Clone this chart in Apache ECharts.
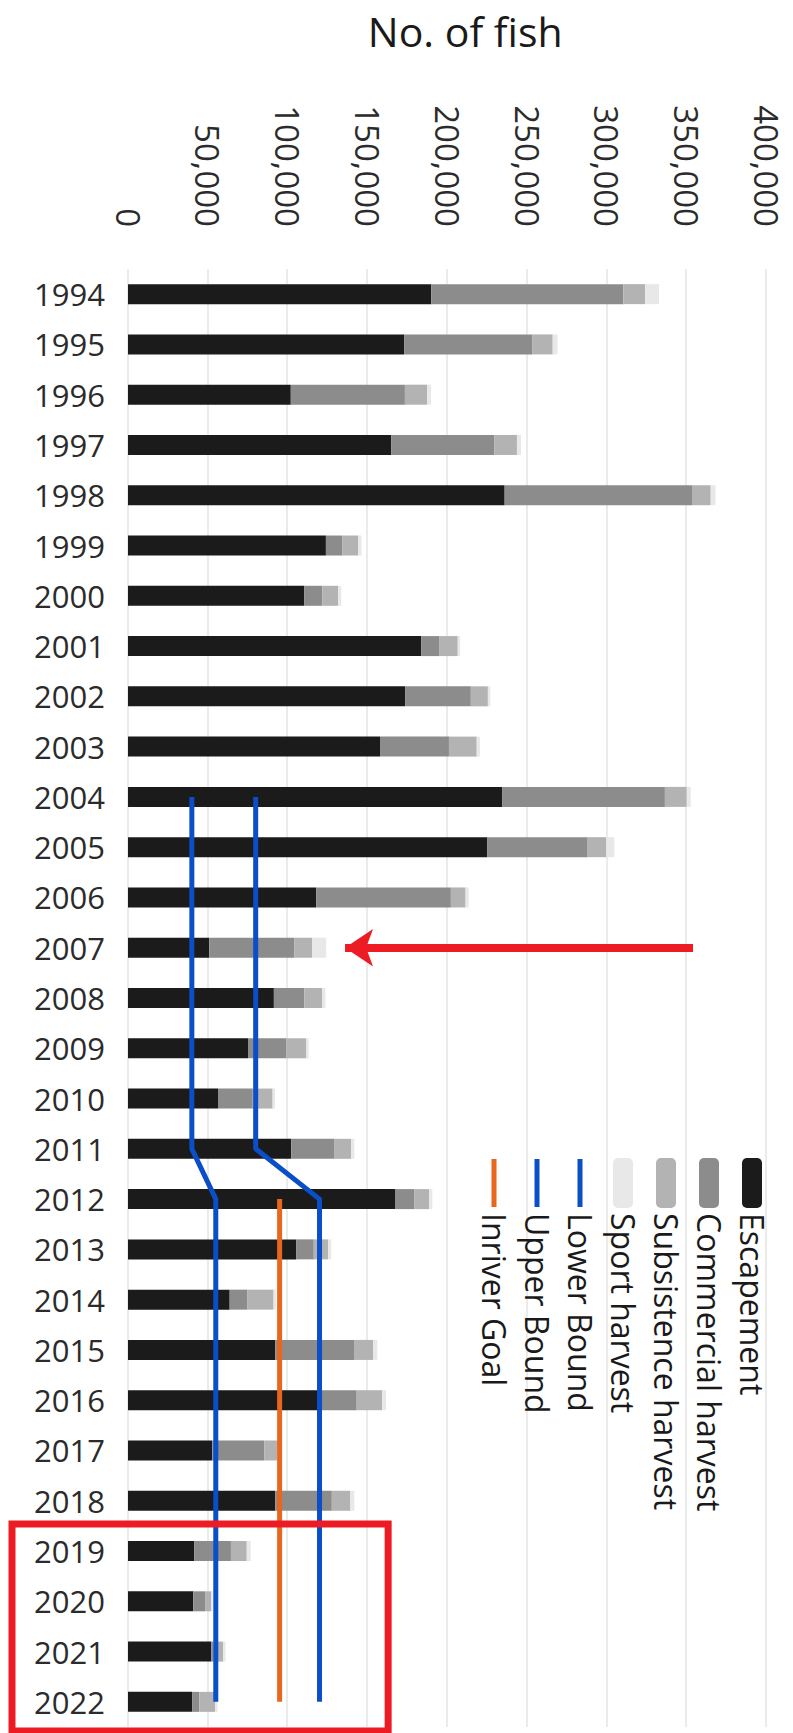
<!DOCTYPE html>
<html>
<head>
<meta charset="utf-8">
<script src="https://cdn.jsdelivr.net/npm/echarts@6/dist/echarts.min.js"></script>
<style>
  html, body { margin: 0; padding: 0; background: #ffffff; overflow: hidden; width: 793px; height: 1733px; }
  #chart { position: absolute; left: 0; top: 0; width: 1733px; height: 793px;
           transform-origin: 0 0; transform: translate(793px, 0) rotate(90deg); }
</style>
</head>
<body>
<div id="chart"></div>
<script>
// ---- data ----
const years = ['1994','1995','1996','1997','1998','1999','2000','2001','2002','2003','2004','2005','2006','2007','2008','2009','2010','2011','2012','2013','2014','2015','2016','2017','2018','2019','2020','2021','2022'];
const escapement  = [190000,173000,102000,165000,236000,124000,110500,183700,173800,157900,234600,225200,117900,50900,91400,75200,56400,102300,167600,105500,63700,92200,119000,52800,92200,41600,40900,52100,40200];
const commercial  = [120400,80200,71500,64600,117400,10400,11200,11200,41000,43200,101800,62800,84400,53400,19100,24100,21800,26800,11900,10900,11200,49800,24300,32700,35500,22900,7400,1500,4500];
const subsistence = [13600,12900,13900,14100,11700,9900,9900,11700,10700,17400,13700,11700,9200,11200,11200,12400,12400,10700,9200,8900,16300,11700,15900,8200,11600,9900,3700,6000,9900];
const sport       = [8700,3000,2500,2500,3000,2000,2000,1500,1500,2000,2500,5000,2000,8700,2000,1500,1500,2000,2000,2000,1500,2500,2500,2000,2500,2500,1000,1500,1500];
const lowerBound  = [null,null,null,null,null,null,null,null,null,null,40000,40000,40000,40000,40000,40000,40000,40000,55000,55000,55000,55000,55000,55000,55000,55000,55000,55000,55000];
const upperBound  = [null,null,null,null,null,null,null,null,null,null,80000,80000,80000,80000,80000,80000,80000,80000,120000,120000,120000,120000,120000,120000,120000,120000,120000,120000,120000];
const inriverGoal = [null,null,null,null,null,null,null,null,null,null,null,null,null,null,null,null,null,null,95000,95000,95000,95000,95000,95000,95000,95000,95000,95000,95000];
const valueTicks = { min: 0, max: 400000, interval: 50000 };
const arrowYear = '2007', arrowFrom = 354000, arrowTo = 136000;
const boxYears = ['2019', '2022'], boxValue = 163000;

const FONT = 'Open Sans';
const BLUE = '#0a4fc8', ORANGE = '#e8671c';
// legend icon for the line series: a thin bar in the middle of the 50x20 icon box
const LINE_ICON = 'path://M0,0L0.1,0L0,0.1Z M1,7.5L49,7.5L49,12.5L1,12.5Z M49.9,20L50,20L50,19.9Z';
const chart = echarts.init(document.getElementById('chart'), null, { renderer: 'svg', width: 1733, height: 793 });

const barBase = { type: 'bar', stack: 'total', barWidth: 20, emphasis: { disabled: true } };
const lineBase = { type: 'line', symbol: 'none', connectNulls: false, emphasis: { disabled: true } };

chart.setOption({
  animation: false,
  backgroundColor: '#ffffff',
  grid: { left: 269, right: 6, top: 26.6, bottom: 128, containLabel: false },
  legend: {
    orient: 'vertical', left: 1153, top: 20,
    itemWidth: 50, itemHeight: 20, itemGap: 11,
    textStyle: { fontSize: 32, fontFamily: FONT, color: '#1a1a1a' },
    data: [
      'Escapement', 'Commercial harvest', 'Subsistence harvest', 'Sport harvest',
      { name: 'Lower Bound', icon: LINE_ICON, itemStyle: { color: BLUE } },
      { name: 'Upper Bound', icon: LINE_ICON, itemStyle: { color: BLUE } },
      { name: 'Inriver Goal', icon: LINE_ICON, itemStyle: { color: ORANGE } }
    ]
  },
  xAxis: {
    type: 'category', data: years,
    axisLine: { show: false }, axisTick: { show: false },
    axisLabel: { rotate: 90, interval: 0, margin: 23, fontSize: 31, fontFamily: FONT, color: '#2b2b2b' }
  },
  yAxis: {
    type: 'value', min: valueTicks.min, max: valueTicks.max, interval: valueTicks.interval,
    axisLine: { show: false }, axisTick: { show: false },
    axisLabel: { margin: 42, fontSize: 33, fontFamily: FONT, color: '#2b2b2b',
                 formatter: v => v.toLocaleString('en-US') },
    splitLine: { lineStyle: { color: '#e4e4e4', width: 1.5 } },
    name: 'No. of fish', nameLocation: 'middle', nameGap: 218,
    nameTextStyle: { fontSize: 41, fontFamily: FONT, color: '#1a1a1a', padding: [0, 0, 0, 36] }
  },
  series: [
    Object.assign({}, barBase, { name: 'Escapement', data: escapement, itemStyle: { color: '#1b1b1b' },
      markLine: {
        silent: true, symbol: ['none', 'arrow'], symbolSize: [28, 28],
        label: { show: false },
        lineStyle: { color: '#ed1c24', width: 8, type: 'solid' },
        data: [[{ coord: [arrowYear, arrowFrom] }, { coord: [arrowYear, arrowTo] }]]
      } }),
    Object.assign({}, barBase, { name: 'Commercial harvest', data: commercial, itemStyle: { color: '#8c8c8c' } }),
    Object.assign({}, barBase, { name: 'Subsistence harvest', data: subsistence, itemStyle: { color: '#b3b3b3' } }),
    Object.assign({}, barBase, { name: 'Sport harvest', data: sport, itemStyle: { color: '#e8e8e8' } }),
    Object.assign({}, lineBase, { name: 'Lower Bound', data: lowerBound, itemStyle: { color: BLUE }, lineStyle: { color: BLUE, width: 5 } }),
    Object.assign({}, lineBase, { name: 'Upper Bound', data: upperBound, itemStyle: { color: BLUE }, lineStyle: { color: BLUE, width: 5 } }),
    Object.assign({}, lineBase, { name: 'Inriver Goal', data: inriverGoal, itemStyle: { color: ORANGE }, lineStyle: { color: ORANGE, width: 5 } })
  ]
});

// highlight box around the last years, placed from axis coordinates
const xa = chart.convertToPixel({ xAxisIndex: 0 }, boxYears[0]);
const xb = chart.convertToPixel({ xAxisIndex: 0 }, boxYears[1]);
const half = (chart.convertToPixel({ xAxisIndex: 0 }, years[1]) - chart.convertToPixel({ xAxisIndex: 0 }, years[0])) / 2;
const yTop = chart.convertToPixel({ yAxisIndex: 0 }, boxValue);
const yBottom = 793 - 12;
chart.setOption({
  graphic: [{
    type: 'rect', silent: true, z: 100,
    shape: { x: xa - half - 2, y: yTop, width: (xb + half + 4) - (xa - half - 2), height: yBottom - yTop },
    style: { fill: 'none', stroke: '#ed1c24', lineWidth: 7 }
  }]
});
</script>
</body>
</html>
